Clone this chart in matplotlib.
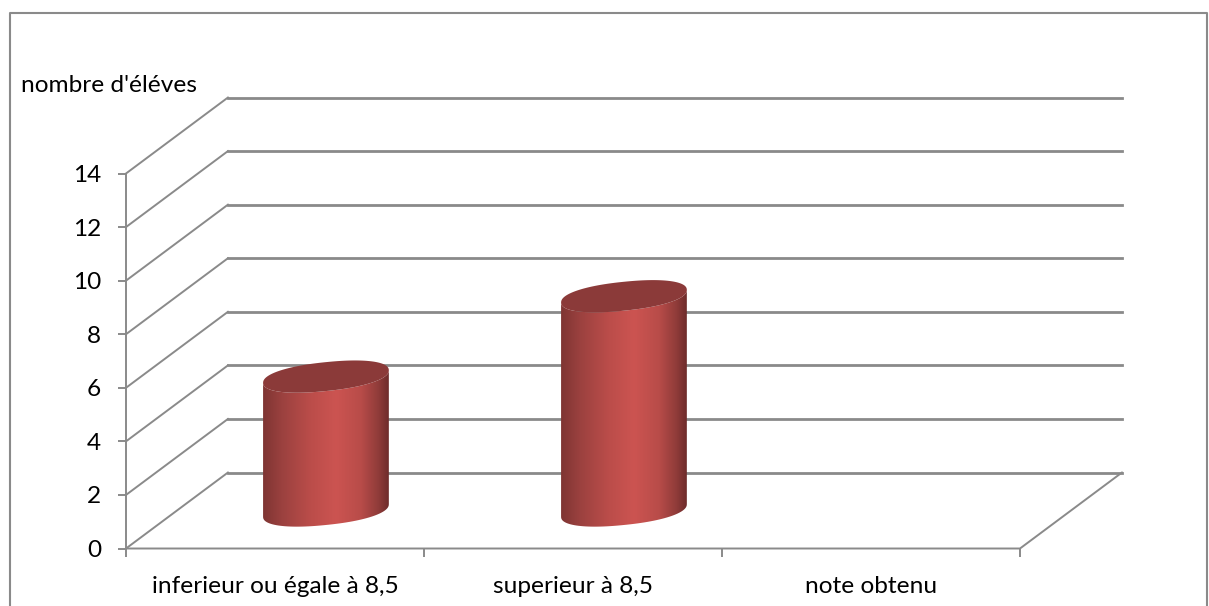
import numpy as np
import matplotlib
matplotlib.use("Agg")
import matplotlib.pyplot as plt
from matplotlib.colors import LinearSegmentedColormap
from matplotlib.lines import Line2D
from matplotlib.patches import PathPatch, Polygon
from matplotlib.path import Path

plt.rcParams["font.family"] = ["Lato", "DejaVu Sans"]

categories = ["inferieur ou égale à 8,5", "superieur à 8,5", "note obtenu"]
values = [5, 8]
y_ticks = [0, 2, 4, 6, 8, 10, 12, 14]
y_title = "nombre d'éléves"

GREY = "#8a8a8a"
DEPTH_X, DEPTH_Y = 0.342, 2.836   # recul du plan arrière (unités catégorie / valeur)
RAD_X, RAD_Y, TILT = 0.211, 0.54, 0.235   # ellipse des cylindres
FS = 17.6

W, H = 1209, 606
fig = plt.figure(figsize=(W / 100, H / 100), dpi=100)
ax = fig.add_axes([126 / W, 1 - 548.5 / H, 894 / W, 375 / H])
ax.patch.set_visible(False)
for s in ax.spines.values():
    s.set_visible(False)

# ── cadre ──
fig.add_artist(Line2D([9.5 / W, 9.5 / W, 1207 / W, 1207 / W], [0, 1 - 13 / H, 1 - 13 / H, 0],
                      color=GREY, lw=1.5, transform=fig.transFigure))

# ── parois : diagonales + lignes horizontales du fond ──
for v in y_ticks:
    ax.plot([0, DEPTH_X], [v, v + DEPTH_Y], color=GREY, lw=1.4, clip_on=False, zorder=1)
    ax.plot([DEPTH_X, DEPTH_X + 3], [v + DEPTH_Y, v + DEPTH_Y], color=GREY, lw=2.0,
            clip_on=False, zorder=1)
ax.plot([0, 3, 3 + DEPTH_X], [0, 0, DEPTH_Y], color=GREY, lw=1.4, clip_on=False, zorder=1)
ax.plot([0, 0], [0, 14], color=GREY, lw=1.4, clip_on=False, zorder=1)

# ── cylindres ──
body_cmap = LinearSegmentedColormap.from_list(
    "body", [(0, "#7f3533"), (0.15, "#9b413f"), (0.38, "#bb4d4a"), (0.58, "#cc5451"),
             (0.78, "#b84c49"), (0.92, "#8f3b39"), (1, "#6e2c2b")])
gradient = np.linspace(0, 1, 256).reshape(1, -1)


def ellipse(cx, cy, t):
    # un peu plus plein qu'une ellipse stricte, bords arrondis
    c = np.sign(np.cos(t)) * np.abs(np.cos(t)) ** 0.9
    s = np.sign(np.sin(t)) * np.abs(np.sin(t)) ** 0.9
    return np.column_stack([cx + RAD_X * c, cy + RAD_Y * s + TILT * c])


for i, v in enumerate(values):
    cx = i + 0.5 + DEPTH_X / 2
    base = DEPTH_Y / 2
    # contour : arc avant du bas, côté droit, arc avant du haut, côté gauche
    low = ellipse(cx, base, np.linspace(np.pi, 2 * np.pi, 60))
    high = ellipse(cx, base + v, np.linspace(2 * np.pi, np.pi, 60))
    outline = np.vstack([low, high, low[:1]])
    clip = PathPatch(Path(outline), transform=ax.transData, facecolor="none", edgecolor="none")
    ax.add_patch(clip)
    im = ax.imshow(gradient, cmap=body_cmap, aspect="auto", zorder=3, clip_on=True,
                   extent=(cx - RAD_X, cx + RAD_X, base - 1, base + v + 1))
    im.set_clip_path(clip)
    top = ellipse(cx, base + v, np.linspace(0, 2 * np.pi, 120))
    ax.add_patch(Polygon(top, closed=True, facecolor="#8b3a39", edgecolor="none", zorder=4,
                         clip_on=False))

# ── axes ──
ax.set_xlim(0, 3)
ax.set_ylim(0, 14)
ax.set_yticks(y_ticks)
ax.set_xticks([0, 1, 2, 3])
ax.set_xticklabels([])
ax.set_xticks([0.5, 1.5, 2.5], minor=True)
ax.set_xticklabels(categories, minor=True)
ax.tick_params(axis="y", length=6, width=1.4, color=GREY, labelsize=FS, pad=12, labelcolor="black")
ax.tick_params(axis="x", which="major", length=5.5, width=1.4, color=GREY)
ax.tick_params(axis="x", which="minor", length=0, labelsize=FS, pad=20, labelcolor="black")

fig.text(21 / W, 1 - 85 / H, y_title, fontsize=FS, color="black", va="center", ha="left")

fig.savefig("out.png", dpi=100)
